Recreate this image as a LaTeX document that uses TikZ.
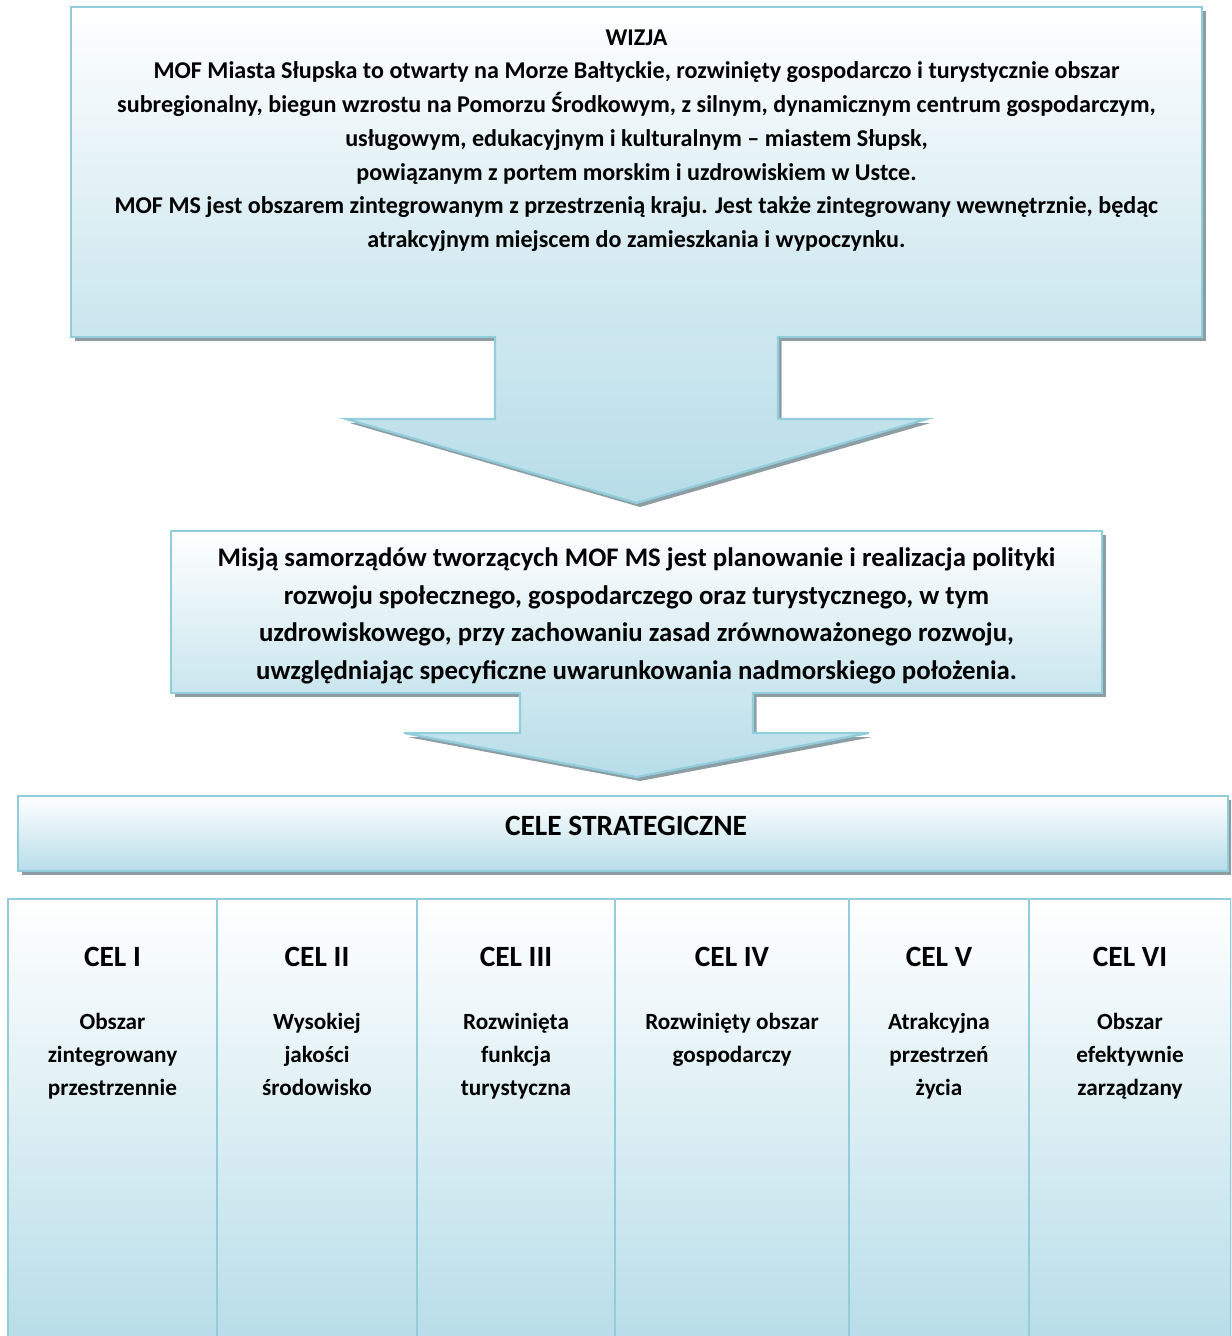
\documentclass[tikz,border=0pt]{standalone}
\usepackage{fontspec}
\setmainfont{Carlito}
\usepackage{tikz}
\usetikzlibrary{shadows}
\definecolor{aqualine}{RGB}{146,205,220}
\definecolor{aquafill}{RGB}{183,221,232}
\definecolor{shadowgray}{RGB}{140,158,164}

\begin{document}
\begin{tikzpicture}[%
  x=0.5pt, y=-0.5pt,
  boxshadow/.style={drop shadow={shadow xshift=1.75pt, shadow yshift=-2pt,
    fill=shadowgray, opacity=1}},
  panel/.style={draw=aqualine, line width=1.3pt, top color=white,
    bottom color=aquafill!75, boxshadow},
  stripe/.style={panel, bottom color=aquafill},
  arrowfill/.style={top color=aquafill!70, bottom color=aquafill, boxshadow},
  arrowline/.style={draw=aqualine, line width=1.1pt},
  wtxt/.style={font=\bfseries\fontsize{12.05}{16.85}\selectfont, align=center,
    anchor=base, inner sep=0pt},
  mtxt/.style={font=\bfseries\fontsize{13.4}{18.67}\selectfont, align=center,
    anchor=base, inner sep=0pt},
  celtitle/.style={font=\bfseries\fontsize{14.7}{17}\selectfont, anchor=base,
    inner sep=0pt},
  celbody/.style={font=\bfseries\fontsize{11.6}{16.5}\selectfont, align=center,
    anchor=base, inner sep=0pt}]
  \useasboundingbox (0,0) rectangle (1231,1336);
  \clip (0,0) rectangle (1231,1336);

  \path[panel] (71,7) rectangle (1202,337);
  \node[wtxt] (wizja) at (636.5,247.5) {WIZJA\\
    MOF Miasta Słupska to otwarty na Morze Bałtyckie, rozwinięty gospodarczo i turystycznie obszar\\
    subregionalny, biegun wzrostu na Pomorzu Środkowym, z silnym, dynamicznym centrum gospodarczym,\\
    usługowym, edukacyjnym i kulturalnym – miastem Słupsk,\\
    powiązanym z portem morskim i uzdrowiskiem w Ustce.\\
    MOF MS jest obszarem zintegrowanym z przestrzenią kraju. Jest także zintegrowany wewnętrznie, będąc\\
    atrakcyjnym miejscem do zamieszkania i wypoczynku.};

  \path[arrowfill] (495,335) -- (495,419) -- (346,419) -- (636.5,503)
    -- (927,419) -- (778,419) -- (778,335) -- cycle;
  \draw[arrowline] (495,336) -- (495,419) -- (346,419) -- (636.5,503)
    -- (927,419) -- (778,419) -- (778,336);

  \path[panel] (171,531) rectangle (1102,693);
  \node[mtxt] (misja) at (636.5,679) {Misją samorządów tworzących MOF MS jest planowanie i realizacja polityki\\
    rozwoju społecznego, gospodarczego oraz turystycznego, w tym\\
    uzdrowiskowego, przy zachowaniu zasad zrównoważonego rozwoju,\\
    uwzględniając specyficzne uwarunkowania nadmorskiego położenia.};

  \path[arrowfill] (520,691) -- (520,733) -- (404,733) -- (636.5,777)
    -- (869,733) -- (753,733) -- (753,691) -- cycle;
  \draw[arrowline] (520,692) -- (520,733) -- (404,733) -- (636.5,777)
    -- (869,733) -- (753,733) -- (753,692);

  \path[stripe] (18,796) rectangle (1228,871);
  \node[celtitle] (cele) at (626,835) {CELE STRATEGICZNE};

  \foreach \lft/\rgt/\ttl/\nl/\body [count=\i] in {%
      8/217/CEL I/3/{Obszar\\zintegrowany\\przestrzennie},
      217/417/CEL II/3/{Wysokiej\\jakości\\środowisko},
      417/615/CEL III/3/{Rozwinięta\\funkcja\\turystyczna},
      615/849/CEL IV/2/{Rozwinięty obszar\\gospodarczy},
      849/1029/CEL V/3/{Atrakcyjna\\przestrzeń\\życia},
      1029/1231/CEL VI/3/{Obszar\\efektywnie\\zarządzany}} {
    \path[stripe] (\lft,899) rectangle (\rgt,1345);
    \node[celtitle] (cel\i) at ({(\lft+\rgt)/2},966) {\ttl};
    \node[celbody] (celtxt\i) at ({(\lft+\rgt)/2},{1029+(\nl-1)*33}) {\body};
  }
\end{tikzpicture}
\end{document}
